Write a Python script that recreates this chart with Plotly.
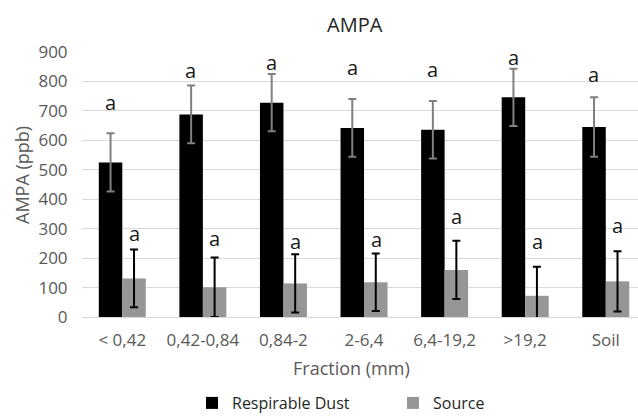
import plotly.graph_objects as go

categories = ["< 0,42", "0,42-0,84", "0,84-2", "2-6,4", "6,4-19,2", ">19,2", "Soil"]
dust = [525, 688, 728, 642, 636, 746, 645]
dust_err = [99, 98, 97, 98, 98, 97, 101]
source = [131, 101, 114, 118, 160, 72, 121]
source_err = [98, 101, 99, 98, 99, 99, 102]
dust_letters = ["a", "a", "a", "a", "a", "a", "a"]
source_letters = ["a", "a", "a", "a", "a", "a", "a"]
dust_letter_y = [727, 837, 863, 846, 839, 883, 825]
source_letter_y = [282, 265, 256, 264, 341, 256, 311]

FONT = "Open Sans"
TXT = "#595959"

fig = go.Figure()
fig.add_trace(go.Bar(
    name="Respirable Dust", x=categories, y=dust,
    marker=dict(color="#000000", line=dict(width=0)),
    error_y=dict(type="data", array=dust_err, visible=True,
                 color="#808080", thickness=2, width=4),
))
fig.add_trace(go.Bar(
    name="Source", x=categories, y=source,
    marker=dict(color="#969696", line=dict(width=0)),
    error_y=dict(type="data", array=source_err, visible=True,
                 color="#000000", thickness=2, width=4),
))

annotations = []
for i, c in enumerate(categories):
    annotations.append(dict(x=c, y=dust_letter_y[i], text=dust_letters[i],
                            xref="x", yref="y", showarrow=False, xshift=-12,
                            yanchor="middle", font=dict(family=FONT, size=20, color="#1a1a1a")))
    annotations.append(dict(x=c, y=source_letter_y[i], text=source_letters[i],
                            xref="x", yref="y", showarrow=False, xshift=12,
                            yanchor="middle", font=dict(family=FONT, size=20, color="#1a1a1a")))

# axis titles and chart title
annotations.append(dict(text="Fraction (mm)", xref="paper", yref="paper",
                        x=(351 - 82) / 556, y=(317 - 368) / 265, showarrow=False,
                        xanchor="center", yanchor="middle",
                        font=dict(family=FONT, size=18, color=TXT)))
annotations.append(dict(text="AMPA (ppb)", xref="paper", yref="paper",
                        x=(22 - 82) / 556, y=(317 - 175) / 265, showarrow=False,
                        textangle=-90, xanchor="center", yanchor="middle",
                        font=dict(family=FONT, size=18, color=TXT)))
annotations.append(dict(text="AMPA", xref="paper", yref="paper",
                        x=(355 - 82) / 556, y=(317 - 24) / 265, showarrow=False,
                        xanchor="center", yanchor="middle",
                        font=dict(family=FONT, size=20, color="#262626")))

fig.update_layout(
    width=638, height=416,
    margin=dict(l=82, r=0, t=52, b=99),
    paper_bgcolor="white", plot_bgcolor="white",
    barmode="group", bargap=0.417, bargroupgap=0,
    font=dict(family=FONT, size=17, color=TXT),
    annotations=annotations,
    showlegend=True,
    legend=dict(orientation="h", xref="container", yref="container",
                x=192 / 638, xanchor="left",
                y=(416 - 403) / 416, yanchor="middle",
                entrywidth=156, entrywidthmode="pixels",
                font=dict(family=FONT, size=16, color="#262626"),
                bgcolor="rgba(0,0,0,0)"),
    xaxis=dict(type="category", range=[-0.5, 6.4], showgrid=False,
               showline=True, linecolor="#d9d9d9", linewidth=1,
               ticks="outside", ticklen=8, tickcolor="rgba(0,0,0,0)",
               tickfont=dict(family=FONT, size=17, color=TXT)),
    yaxis=dict(range=[0, 900], dtick=100, showgrid=True, gridcolor="#d9d9d9",
               gridwidth=1, zeroline=False, showline=False,
               ticks="outside", ticklen=10, tickcolor="rgba(0,0,0,0)",
               tickfont=dict(family=FONT, size=17, color=TXT)),
)

fig.write_html("out.html")
